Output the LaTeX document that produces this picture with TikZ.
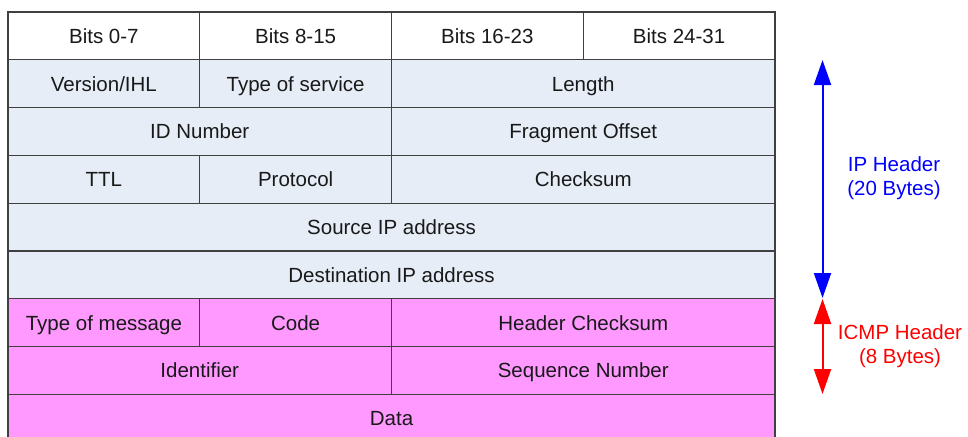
\documentclass[tikz,border=0pt]{standalone}
\usepackage{fontspec}
\setmainfont{Liberation Sans}
\usetikzlibrary{arrows.meta}
\definecolor{ipblue}{RGB}{230,237,247}
\definecolor{icmppink}{RGB}{255,153,255}
\definecolor{gridline}{RGB}{64,64,64}
\tikzset{
  cell/.style={draw=gridline, line width=1.2pt, rectangle, inner sep=0pt, outer sep=0pt,
    font=\fontsize{20.5}{24}\selectfont, text=black!90, text height=14.7pt, text depth=0pt},
  hdr/.style={cell, fill=white},
  ipc/.style={cell, fill=ipblue},
  icc/.style={cell, fill=icmppink},
  span/.style={minimum width=#1*191.75pt, minimum height=47.8pt},
  lbl/.style={font=\fontsize{20.5}{24}\selectfont, align=center, inner sep=0pt},
  dbl/.style={line width=2pt, {Triangle[width=17pt,length=25pt]}-{Triangle[width=17pt,length=25pt]}}
}
\begin{document}
\begin{tikzpicture}[x=1pt,y=-1pt]
\useasboundingbox (0,0) rectangle (968,436);
\clip (0,0) rectangle (968,436);
% column centers
\def\ca{103.875}\def\cb{295.625}\def\cc{487.375}\def\cd{679.125}
\def\cab{199.75}\def\ccd{583.25}\def\call{391.5}
% row 1
\node[hdr, span=1] (b0) at (\ca,35.9) {Bits 0-7};
\node[hdr, span=1] (b8) at (\cb,35.9) {Bits 8-15};
\node[hdr, span=1] (b16) at (\cc,35.9) {Bits 16-23};
\node[hdr, span=1] (b24) at (\cd,35.9) {Bits 24-31};
% row 2
\node[ipc, span=1] (ver) at (\ca,83.7) {Version/IHL};
\node[ipc, span=1] (tos) at (\cb,83.7) {Type of service};
\node[ipc, span=2] (len) at (\ccd,83.7) {Length};
% row 3
\node[ipc, span=2] (id) at (\cab,131.5) {ID Number};
\node[ipc, span=2] (frag) at (\ccd,131.5) {Fragment Offset};
% row 4
\node[ipc, span=1] (ttl) at (\ca,179.3) {TTL};
\node[ipc, span=1] (proto) at (\cb,179.3) {Protocol};
\node[ipc, span=2] (chk) at (\ccd,179.3) {Checksum};
% row 5
\node[ipc, span=4] (src) at (\call,227.1) {Source IP address};
% row 6
\node[ipc, span=4] (dst) at (\call,274.9) {Destination IP address};
% row 7
\node[icc, span=1] (tom) at (\ca,322.7) {Type of message};
\node[icc, span=1] (code) at (\cb,322.7) {Code};
\node[icc, span=2] (hchk) at (\ccd,322.7) {Header Checksum};
% row 8
\node[icc, span=2] (ident) at (\cab,370.5) {Identifier};
\node[icc, span=2] (seq) at (\ccd,370.5) {Sequence Number};
% row 9
\node[icc, span=4] (data) at (\call,418.3) {Data};
% arrows
\coordinate (ipT) at (822.5,60);
\coordinate (ipB) at (822.5,298);
\coordinate (icT) at (822.5,299);
\coordinate (icB) at (822.5,394);
\draw[dbl, blue] (ipT) -- (ipB);
\draw[dbl, red] (icT) -- (icB);
\node[lbl, text=blue] (iplbl) at (894,178) {IP Header\\(20 Bytes)};
\node[lbl, text=red] (iclbl) at (900,346) {ICMP Header\\(8 Bytes)};
\end{tikzpicture}
\end{document}
